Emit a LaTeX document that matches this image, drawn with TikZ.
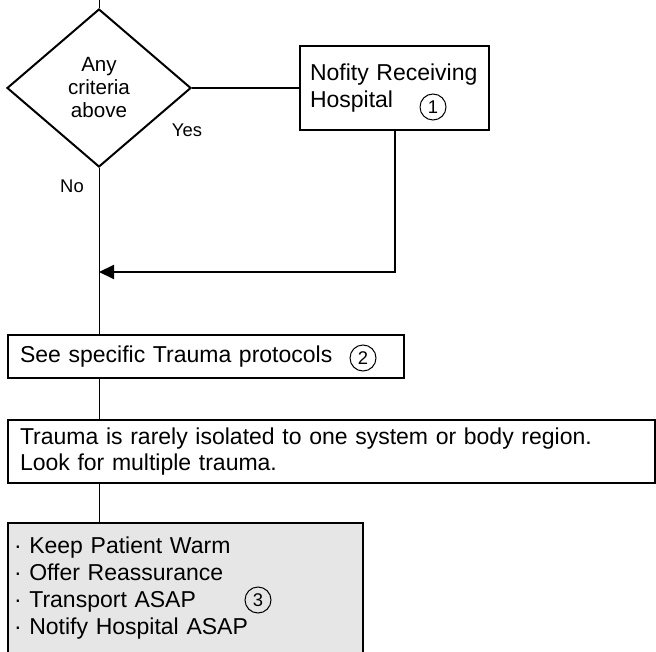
\documentclass[tikz,border=0pt]{standalone}
\usepackage{fontspec}
\setmainfont{Liberation Sans}
\usepackage{tikz}
\usetikzlibrary{shapes.geometric,arrows.meta,positioning}
\definecolor{notegray}{HTML}{E6E6E6}

\begin{document}
\begin{tikzpicture}[
    x=0.5pt, y=-0.5pt,
    every node/.style={font=\fontsize{11.5}{13.4}\selectfont},
    decision/.style={diamond, draw, line width=1pt, inner sep=0pt, minimum width=92pt, minimum height=79pt, align=center, font=\fontsize{10.3}{11.5}\selectfont},
    textbox/.style={rectangle, draw, line width=0.6pt, inner xsep=6pt, inner ysep=0pt, align=left},
    num/.style={circle, draw, line width=0.5pt, inner sep=0pt, minimum size=13pt, font=\fontsize{9.2}{10}\selectfont},
    answer/.style={font=\fontsize{9.2}{10}\selectfont},
    link/.style={line width=0.5pt},
    thicklink/.style={line width=1pt}
]
\useasboundingbox (0,0) rectangle (656,651);

\node[decision] (decide) at (99,88) {Any\\criteria\\above};
\node[textbox, inner xsep=5pt, text width=84.5pt, minimum height=42pt] (notify) at (394.5,88) {Nofity Receiving\\Hospital};
\node[num] (n1) at (433,107) {1};
\node[textbox, text width=186pt, minimum height=21.5pt] (see) at (206,356.5) {See specific Trauma protocols};
\node[num] (n2) at (363,358) {2};
\node[textbox, text width=311.5pt, minimum height=31.5pt] (info) at (331.5,451.5) {Trauma is rarely isolated to one system or body region.\\Look for multiple trauma.};
\node[textbox, fill=notegray, line width=1.1pt, inner xsep=3pt, text width=171.5pt, minimum height=65pt] (care) at (185.5,588)
    {· Keep Patient Warm\\· Offer Reassurance\\· Transport ASAP\\· Notify Hospital ASAP};
\node[num] (n3) at (258,600) {3};
\node[answer] (yes) at (187,130) {Yes};
\node[answer] (no) at (72,186) {No};

\coordinate (top) at (99,0);
\coordinate (join) at (99,272);

% connectors
\draw[link] (top) -- (decide.north);
\draw[thicklink] (decide.east) -- (notify.west);
\draw[thicklink, -{Triangle[length=7.5pt,width=7pt]}] (notify.south) |- (join);
\draw[link] (decide.south) -- (decide.south |- see.north);
\draw[link] (decide.south |- see.south) -- (decide.south |- info.north);
\draw[link] (decide.south |- info.south) -- (decide.south |- care.north);

\end{tikzpicture}
\end{document}
